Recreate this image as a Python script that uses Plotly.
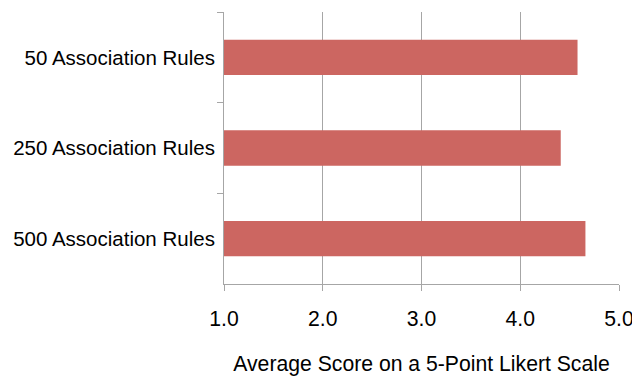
import plotly.graph_objects as go

categories = ["50 Association Rules", "250 Association Rules", "500 Association Rules"]
scores = [4.58, 4.41, 4.66]
tick_vals = [1, 2, 3, 4, 5]
tick_text = ["1.0", "2.0", "3.0", "4.0", "5.0"]
x_title = "Average Score on a 5-Point Likert Scale"

fig = go.Figure()
fig.add_trace(go.Bar(
    y=categories, x=scores, orientation="h",
    marker=dict(color="#CC6661", line=dict(width=0)),
    width=0.39,
))

font = dict(family="Liberation Sans, Arial, sans-serif", size=21.2, color="#000000")
yfont = dict(family="Liberation Sans, Arial, sans-serif", size=20.5, color="#000000")

# page body has an 8px default margin, so the figure is sized/margined to compensate
fig.update_layout(
    width=632, height=370,
    margin=dict(l=216, r=21, t=4, b=94, autoexpand=False),
    paper_bgcolor="white", plot_bgcolor="white",
    showlegend=False,
    font=font,
)
fig.update_xaxes(
    range=[1, 5], tickvals=tick_vals, ticktext=tick_text,
    showgrid=True, gridcolor="#A6A6A6", gridwidth=1,
    showline=True, linecolor="#A6A6A6", linewidth=1,
    ticks="outside", ticklen=6, tickcolor="#A6A6A6",
    zeroline=False, tickfont=font, automargin=False, ticklabelstandoff=10,
    title=dict(text=x_title, font=font, standoff=26),
)
fig.update_yaxes(
    categoryorder="array", categoryarray=categories, autorange="reversed",
    showgrid=False, showline=True, linecolor="#A6A6A6", linewidth=1,
    ticks="outside", ticklen=6, tickcolor="#A6A6A6", tickson="boundaries",
    tickfont=yfont, automargin=False, ticklabelstandoff=4,
)

fig.write_html("out.html")
